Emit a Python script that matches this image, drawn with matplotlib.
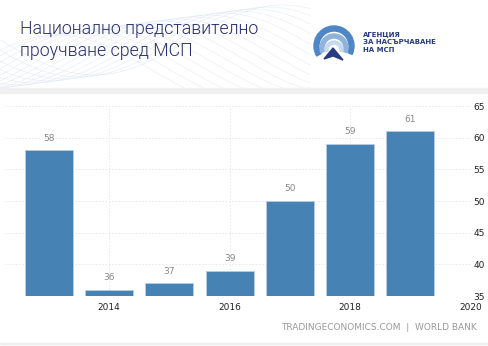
import matplotlib.pyplot as plt
import matplotlib.patches as patches
import numpy as np

# Data
years = [2013, 2014, 2015, 2016, 2017, 2018, 2019]
values = [58, 36, 37, 39, 50, 59, 61]
x_ticks = [2014, 2016, 2018, 2020]
y_ticks = [35, 40, 45, 50, 55, 60, 65]

title = "Национално представително\nпроучване сред МСП"
agency = "АГЕНЦИЯ\nЗА НАСЪРЧАВАНЕ\nНА МСП"
source = "TRADINGECONOMICS.COM  |  WORLD BANK"

W, H = 489, 346
fig = plt.figure(figsize=(W / 100, H / 100), dpi=100)
fig.patch.set_facecolor('white')

# faint wave pattern in the header
bg = fig.add_axes([0, 1 - 88 / H, 1, 88 / H], zorder=0)
bg.set_xlim(0, W)
bg.set_ylim(88, 0)
bg.axis('off')
t = np.linspace(0, 310, 200)
for k in range(16):
    bg.plot(t, 40 + 35 * np.sin(t / 60 + k * 0.25) + k * 2, color='#c9d8ea', lw=0.4, alpha=0.5)

# gray separator band
fig.patches.append(patches.Rectangle((0, 1 - 93 / H), 1, 5 / H, transform=fig.transFigure,
                                     color='#f0f0f0', zorder=0))

fig.text(20 / W, 1 - 40 / H, title, fontsize=12.8, color='#262d70', family='Roboto',
         fontweight=300, va='center', ha='left', linespacing=1.35, zorder=10)

# logo
lg = fig.add_axes([305 / W, 1 - 70 / H, 55 / W, 50 / H])
lg.set_xlim(0, 55)
lg.set_ylim(50, 0)
lg.set_aspect('equal')
lg.axis('off')
lg.add_patch(patches.Wedge((29, 26), 20, 150, 385, width=5, color='#4f86c6'))
lg.add_patch(patches.Wedge((29, 28), 14, 160, 380, width=4, color='#8fb3dd'))
lg.add_patch(patches.Wedge((29, 30), 9, 170, 370, width=3, color='#c6d9ef'))
lg.add_patch(patches.Polygon([[28, 28], [19, 39], [28, 36], [38, 40]], color='#283a80'))
fig.text(363 / W, 1 - 42 / H, agency, fontsize=5, color='#283a80', fontweight='heavy',
         va='center', ha='left', linespacing=1.3)

# chart
ax = fig.add_axes([5 / W, 1 - 296 / H, 465.5 / W, 190 / H])
bars = ax.bar(years, values, width=0.8, bottom=0, color='#4682b4', edgecolor='#b7cde3',
              linewidth=0.6, zorder=3)
for x, v in zip(years, values):
    ax.text(x, v + 1.2, str(v), ha='center', va='bottom', fontsize=6.5, color='#888888')

ax.set_xlim(2012.27, 2020)
ax.set_ylim(35, 65)
ax.set_xticks(x_ticks)
ax.set_xticklabels([str(x) for x in x_ticks])
ax.set_yticks(y_ticks)
ax.yaxis.tick_right()
ax.tick_params(axis='both', length=0, labelsize=6.5, colors='#222222')
ax.tick_params(axis='y', pad=2)
ax.tick_params(axis='x', pad=5)
ax.grid(True, color='#e6e6e6', linestyle=(0, (2, 2)), linewidth=0.6, zorder=0)
for s in ax.spines.values():
    s.set_visible(False)

fig.text(477 / W, 1 - 328 / H, source, fontsize=6.5, color='#999999', ha='right', va='center')
fig.patches.append(patches.Rectangle((0, 1 - 344 / H), 1, 1 / H, transform=fig.transFigure,
                                     color='#eeeeee', zorder=0))

plt.savefig('out.png', dpi=100)
